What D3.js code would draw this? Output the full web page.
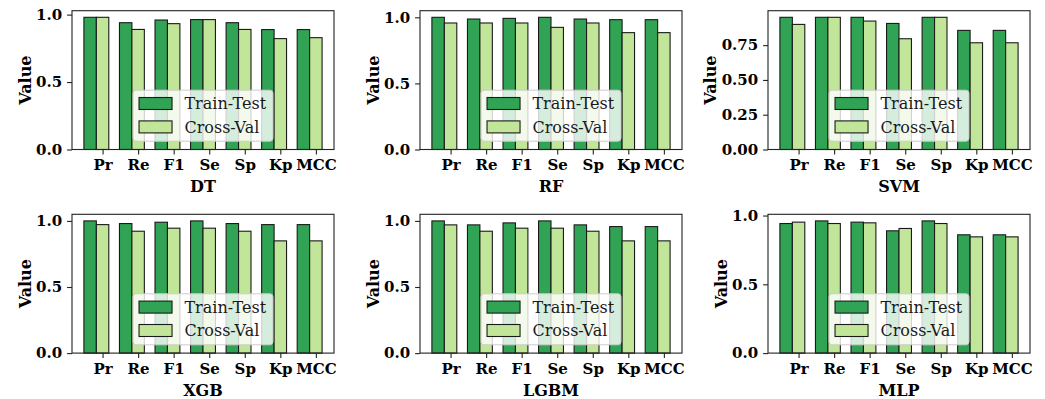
<!DOCTYPE html>
<html>
<head>
<meta charset="utf-8">
<script src="https://cdn.jsdelivr.net/npm/d3@7"></script>
<style>
  html, body { margin: 0; padding: 0; background: #fff; }
  svg { display: block; }
</style>
</head>
<body>
<svg id="chart" width="1045" height="399"></svg>
<script>
// ---------------- data ----------------
const categories = ["Pr", "Re", "F1", "Se", "Sp", "Kp", "MCC"];
const models = ["DT", "RF", "SVM", "XGB", "LGBM", "MLP"];
const seriesNames = ["Train-Test", "Cross-Val"];

const dtTrain   = [0.98, 0.94, 0.96, 0.963, 0.94, 0.889, 0.889];
const dtCV      = [0.98, 0.89, 0.933, 0.963, 0.89, 0.822, 0.829];
const rfTrain   = [1.00, 0.987, 0.992, 1.00, 0.987, 0.982, 0.982];
const rfCV      = [0.957, 0.957, 0.957, 0.924, 0.957, 0.884, 0.884];
const svmTrain  = [0.95, 0.95, 0.95, 0.906, 0.95, 0.856, 0.856];
const svmCV     = [0.899, 0.95, 0.923, 0.796, 0.95, 0.767, 0.767];
const xgbTrain  = [1.00, 0.98, 0.99, 1.00, 0.98, 0.972, 0.972];
const xgbCV     = [0.972, 0.922, 0.945, 0.945, 0.922, 0.849, 0.849];
const lgbmTrain = [1.00, 0.97, 0.985, 1.00, 0.97, 0.957, 0.957];
const lgbmCV    = [0.97, 0.922, 0.945, 0.945, 0.922, 0.849, 0.849];
const mlpTrain  = [0.942, 0.961, 0.952, 0.889, 0.961, 0.86, 0.86];
const mlpCV     = [0.952, 0.942, 0.947, 0.906, 0.942, 0.845, 0.845];

const ticksHalf    = [0, 0.5, 1.0];
const ticksQuarter = [0, 0.25, 0.5, 0.75];

const trainSeries = [dtTrain, rfTrain, svmTrain, xgbTrain, lgbmTrain, mlpTrain];
const cvSeries    = [dtCV, rfCV, svmCV, xgbCV, lgbmCV, mlpCV];
const yTickSets   = [ticksHalf, ticksHalf, ticksQuarter, ticksHalf, ticksHalf, ticksHalf];
const yTickFormats = [".1f", ".1f", ".2f", ".1f", ".1f", ".1f"];

// ---------------- style / layout ----------------
const colors = ["#31a354", "#c2e699"];
const FONT = "'DejaVu Serif', serif";
const tickFont = 15;
const legendFont = 16;
const barW = 0.35;

const colLefts = [72, 420, 768];
const panelW = 262;
const rowTops = [10.7, 214.3];
const panelH = 138.8;

const svg = d3.select("#chart");

models.forEach((model, idx) => {
  const col = idx % 3, row = Math.floor(idx / 3);
  const left = colLefts[col], top = rowTops[row];
  const right = left + panelW, bottom = top + panelH;
  const train = trainSeries[idx], cv = cvSeries[idx];
  const maxV = d3.max(train.concat(cv));

  const n = categories.length;
  const xmin = -barW / 2, xmax = (n - 1) + barW + barW / 2;
  const margin = 0.05 * (xmax - xmin);
  const x = d3.scaleLinear().domain([xmin - margin, xmax + margin]).range([left, right]);
  const y = d3.scaleLinear().domain([0, maxV * 1.05]).range([bottom, top]);

  const g = svg.append("g");

  // bars
  const rows = categories.map((c, i) => ({ i, c, t: train[i], v: cv[i] }));
  g.selectAll("rect.train").data(rows).enter().append("rect")
    .attr("x", d => x(d.i - barW / 2))
    .attr("width", d => x(d.i + barW / 2) - x(d.i - barW / 2))
    .attr("y", d => y(d.t))
    .attr("height", d => y(0) - y(d.t))
    .attr("fill", colors[0]).attr("stroke", "#1a1a1a").attr("stroke-width", 1.1);
  g.selectAll("rect.cv").data(rows).enter().append("rect")
    .attr("x", d => x(d.i + barW / 2))
    .attr("width", d => x(d.i + 1.5 * barW) - x(d.i + barW / 2))
    .attr("y", d => y(d.v))
    .attr("height", d => y(0) - y(d.v))
    .attr("fill", colors[1]).attr("stroke", "#1a1a1a").attr("stroke-width", 1.1);

  // spines
  g.append("rect").attr("x", left).attr("y", top)
    .attr("width", right - left).attr("height", bottom - top)
    .attr("fill", "none").attr("stroke", "#222").attr("stroke-width", 1.1);

  // x axis
  const xAxis = d3.axisBottom(x)
    .tickValues(categories.map((c, i) => i + barW))
    .tickFormat((d, i) => categories[i])
    .tickSize(4.9).tickPadding(5.2);
  const xg = g.append("g").attr("transform", `translate(0,${bottom})`).call(xAxis);
  xg.select(".domain").remove();
  xg.selectAll(".tick line").attr("stroke", "#222").attr("stroke-width", 1.1);
  xg.selectAll(".tick text").attr("fill", "#000")
    .style("font-family", FONT).style("font-size", tickFont + "px").style("font-weight", "bold");

  // y axis
  const yAxis = d3.axisLeft(y)
    .tickValues(yTickSets[idx])
    .tickFormat(d3.format(yTickFormats[idx]))
    .tickSize(4.9).tickPadding(4.9);
  const yg = g.append("g").attr("transform", `translate(${left},0)`).call(yAxis);
  yg.select(".domain").remove();
  yg.selectAll(".tick line").attr("stroke", "#222").attr("stroke-width", 1.1);
  yg.selectAll(".tick text").attr("fill", "#000")
    .style("font-family", FONT).style("font-size", tickFont + "px").style("font-weight", "bold");

  // y label
  let maxW = 0;
  yg.selectAll(".tick text").each(function () { maxW = Math.max(maxW, this.getBBox().width); });
  const ylx = left - 4.9 - 4.9 - maxW - 5.2;
  g.append("text")
    .attr("transform", `translate(${ylx},${(top + bottom) / 2}) rotate(-90)`)
    .attr("text-anchor", "middle")
    .style("font-family", FONT).style("font-size", "16px").style("font-weight", "bold")
    .text("Value");

  // x label (model name)
  g.append("text")
    .attr("x", (left + right) / 2).attr("y", bottom + 42.5)
    .attr("text-anchor", "middle")
    .style("font-family", FONT).style("font-size", "16px").style("font-weight", "bold")
    .text(model);

  // legend (lower center)
  const lg = g.append("g");
  const patchW = 33, patchH = 12, padL = 6, gap = 12.4, padR = 6.3;
  const texts = seriesNames.map((s, k) => lg.append("text")
    .style("font-family", FONT).style("font-size", legendFont + "px")
    .attr("fill", "#1a1a1a").text(s));
  let tw = 0;
  texts.forEach(t => { tw = Math.max(tw, t.node().getBBox().width); });
  const bw = padL + patchW + gap + tw + padR;
  const bh = 51;
  const bx = (left + right) / 2 - bw / 2;
  const by = bottom - 8.3 - bh;
  lg.insert("rect", "text")
    .attr("x", bx).attr("y", by).attr("width", bw).attr("height", bh)
    .attr("rx", 3).attr("ry", 3)
    .attr("fill", "#ffffff").attr("fill-opacity", 0.8)
    .attr("stroke", "#cccccc").attr("stroke-width", 1);
  const rowCenters = [by + 13.3, by + 36.7];
  seriesNames.forEach((s, k) => {
    lg.append("rect")
      .attr("x", bx + padL).attr("y", rowCenters[k] - patchH / 2)
      .attr("width", patchW).attr("height", patchH)
      .attr("fill", colors[k]).attr("stroke", "#1a1a1a").attr("stroke-width", 1.1);
    texts[k].attr("x", bx + padL + patchW + gap).attr("y", rowCenters[k]).attr("dy", "0.36em");
  });
});
</script>
</body>
</html>
